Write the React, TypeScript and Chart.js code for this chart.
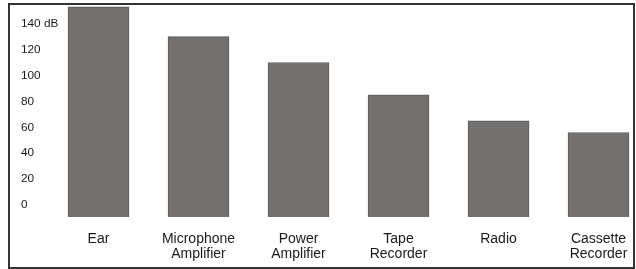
import React, { useEffect, useRef } from "react";
import { Chart, registerables } from "chart.js";

Chart.register(...registerables);

const categories: (string | string[])[] = [
  "Ear",
  ["Microphone", "Amplifier"],
  ["Power", "Amplifier"],
  ["Tape", "Recorder"],
  "Radio",
  ["Cassette", "Recorder"],
];
const levels: number[] = [153, 130, 110, 85, 65, 56];
const yTicks: number[] = [0, 20, 40, 60, 80, 100, 120, 140];
const yUnit = " dB";

export default function App() {
  const ref = useRef<HTMLCanvasElement | null>(null);

  useEffect(() => {
    if (!ref.current) return;
    const font = "'Liberation Sans', Arial, Helvetica, sans-serif";
    const chart = new Chart(ref.current, {
      type: "bar",
      data: {
        datasets: [
          {
            data: levels.map((v, i) => ({ x: i, y: v })),
            base: -9.3,
            backgroundColor: "#737170",
            borderColor: "#5c5a59",
            borderWidth: 1,
            barThickness: 61,
          } as any,
        ],
      },
      options: {
        animation: false,
        responsive: true,
        maintainAspectRatio: false,
        layout: { padding: { top: 4, left: 21, right: 4, bottom: 0 } },
        plugins: { legend: { display: false }, tooltip: { enabled: false } },
        scales: {
          x: {
            type: "linear",
            offset: false,
            min: -0.365,
            max: 5.335,
            grid: { display: false, drawTicks: false, offset: false },
            border: { display: false },
            afterBuildTicks: (scale: any) => {
              scale.ticks = categories.map((_, i) => ({ value: i }));
            },
            afterFit: (scale: any) => {
              scale.height = 52;
              scale.paddingLeft = 0;
              scale.paddingRight = 0;
            },
            ticks: {
              autoSkip: false,
              maxRotation: 0,
              minRotation: 0,
              padding: 15,
              color: "#1a1a1a",
              font: { family: font, size: 14, lineHeight: 1.07 },
              callback: (v: any) => categories[v as number] as any,
            },
          },
          y: {
            type: "linear",
            min: -9.27,
            max: 155.2,
            grid: { display: false, drawTicks: false },
            border: { display: false },
            afterBuildTicks: (scale: any) => {
              scale.ticks = yTicks.map((v) => ({ value: v }));
            },
            afterFit: (scale: any) => {
              scale.width = 41;
              scale.paddingTop = 0;
              scale.paddingBottom = 0;
            },
            ticks: {
              crossAlign: "far",
              padding: 4,
              color: "#1a1a1a",
              font: { family: font, size: 11.8 },
              callback: (v: any) =>
                v === yTicks[yTicks.length - 1] ? `${v}${yUnit}` : `${v}`,
            },
          },
        },
      },
    });
    return () => chart.destroy();
  }, []);

  return (
    <div
      style={{
        position: "absolute",
        left: 0,
        top: 0,
        width: 636,
        height: 269,
        background: "#fff",
      }}
    >
      <canvas ref={ref} />
      <div
        style={{
          position: "absolute",
          left: 8,
          top: 3,
          width: 627,
          height: 266,
          boxSizing: "border-box",
          border: "2px solid #333",
          pointerEvents: "none",
        }}
      />
    </div>
  );
}
